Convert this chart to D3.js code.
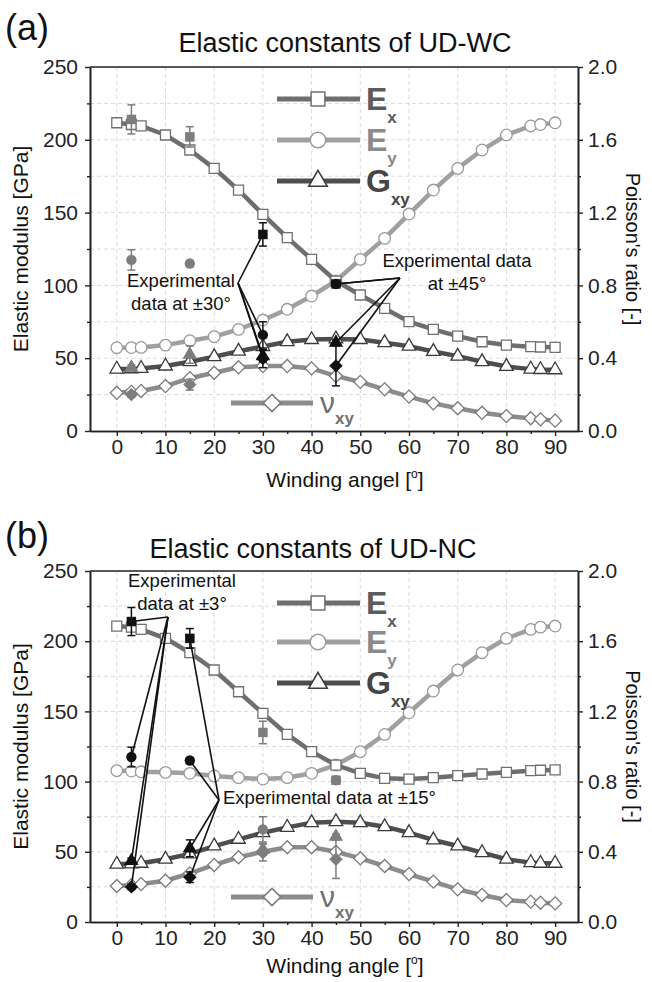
<!DOCTYPE html>
<html>
<head>
<meta charset="utf-8">
<script src="https://cdn.jsdelivr.net/npm/d3@7/dist/d3.min.js"></script>
<style>
body { margin: 0; background: #fff; }
svg text { font-family: "Liberation Sans", Arial, sans-serif; }
</style>
</head>
<body>
<div id="app"></div>
<script>
// winding angles of the model curves
const angles = [0, 3, 5, 10, 15, 20, 25, 30, 35, 40, 45, 50, 55, 60, 65, 70, 75, 80, 85, 87, 90];

// UD-WC (panel a)
const wcEx = [211.7, 210.5, 209.5, 203.3, 193, 180.4, 165.5, 148.8, 132.8, 117.9, 103, 93.4, 84.2, 75.1, 69.8, 65.2, 61.3, 59, 57.9, 57.7, 57.5];
const wcEy = [57.2, 57.3, 57.4, 59, 62, 64.8, 69.8, 76.2, 83.6, 92.7, 103, 117.9, 132.3, 149, 165.5, 180.4, 193, 203.3, 209.5, 210.5, 211.7];
const wcGxy = [42.5, 42.7, 43, 44.6, 47.6, 51, 54.8, 58, 61.3, 62.8, 63.2, 62.8, 60.6, 58.2, 54.6, 51.4, 47.6, 44.3, 42.5, 42.2, 42];
const wcNu = [0.21, 0.215, 0.22, 0.247, 0.29, 0.32, 0.35, 0.357, 0.357, 0.344, 0.302, 0.27, 0.229, 0.189, 0.152, 0.125, 0.1, 0.082, 0.07, 0.064, 0.057];

// UD-NC (panel b)
const ncEx = [210.8, 210, 208.4, 202, 191.8, 179.5, 164, 148.6, 133.6, 121.3, 111.8, 105.9, 102.3, 101.8, 102.8, 104.2, 105.4, 106.6, 107.8, 108.1, 108.3];
const ncEy = [107.8, 107.5, 107, 106.6, 105.9, 104, 102.8, 101.8, 102.8, 105.9, 111.8, 121.3, 133.6, 149, 164.5, 179.5, 191.8, 202, 208.4, 210, 210.8];
const ncGxy = [41.1, 41.4, 41.8, 44.7, 48.5, 54.1, 58.9, 63.6, 67.4, 70.7, 71.4, 70.7, 67.9, 63.6, 58.4, 54.1, 49.4, 44.7, 42.3, 41.8, 41.8];
const ncNu = [0.205, 0.21, 0.216, 0.235, 0.277, 0.325, 0.369, 0.4, 0.426, 0.426, 0.4, 0.363, 0.319, 0.273, 0.23, 0.186, 0.154, 0.125, 0.116, 0.11, 0.106];

// experimental data (same measurements in both panels)
const expAngles = [3, 15, 30, 45];
const expEx = [214, 202, 135, 101];
const expExErr = [10, 7, 8, 1.5];
const expEy = [117.5, 115, 66, 101];
const expEyErr = [7, 2, 9, 1.5];
const expGxy = [43.5, 52.5, 51.5, 60.8];
const expGxyErr = [2, 6, 4, 2];
const expNu = [0.2, 0.255, 0.398, 0.358];
const expNuErr = [0.015, 0.03, 0.05, 0.11];

const xTicks = [0, 10, 20, 30, 40, 50, 60, 70, 80, 90];
const leftTicks = [0, 50, 100, 150, 200, 250];
const rightTicks = [0, 0.4, 0.8, 1.2, 1.6, 2.0];

const W = 652, H = 982;
const svg = d3.select('#app').append('svg').attr('width', W).attr('height', H);

const series = [
	{ key: 'nu', right: true, line: '#8c8c8c', stroke: '#7a7a7a', shape: 'diamond', exp: expNu, err: expNuErr },
	{ key: 'gxy', line: '#4e4e4e', stroke: '#3a3a3a', shape: 'triangle', exp: expGxy, err: expGxyErr },
	{ key: 'ey', line: '#a0a0a0', stroke: '#9a9a9a', shape: 'circle', exp: expEy, err: expEyErr },
	{ key: 'ex', line: '#6e6e6e', stroke: '#707070', shape: 'square', exp: expEx, err: expExErr }
];

const symbolPath = (shape, size) => {
	const type = { square: d3.symbolSquare, circle: d3.symbolCircle, triangle: d3.symbolTriangle, diamond: d3.symbolSquare }[shape];
	return d3.symbol().type(type).size(size)();
};
const rot = (shape) => (shape === 'diamond' ? ' rotate(45)' : '');

const panels = [
	{
		tag: '(a)', tagY: 40, title: 'Elastic constants of UD-WC', titleX: 345, titleY: 52,
		top: 67, bottom: 431, xTitle: 'Winding angel ', xTitleY: 487,
		data: { ex: wcEx, ey: wcEy, gxy: wcGxy, nu: wcNu },
		dark: [30, 45],
		legendY: [99, 140, 181], nuLegendY: 403,
		notes: [
			{ lines: ['Experimental', 'data at \u00b130\u00b0'], x: 181, y: 287, apex: [238, 283], at: 30 },
			{ lines: ['Experimental data', 'at \u00b145\u00b0'], x: 457, y: 267, apex: [400, 278], at: 45 }
		]
	},
	{
		tag: '(b)', tagY: 548, title: 'Elastic constants of UD-NC', titleX: 313, titleY: 558,
		top: 571, bottom: 922, xTitle: 'Winding angle ', xTitleY: 973,
		data: { ex: ncEx, ey: ncEy, gxy: ncGxy, nu: ncNu },
		dark: [3, 15],
		legendY: [603, 642, 683], nuLegendY: 897,
		notes: [
			{ lines: ['Experimental', 'data at \u00b13\u00b0'], x: 182, y: 587, apex: [168, 617], at: 3 },
			{ lines: ['Experimental data at \u00b115\u00b0'], x: 223, y: 804, anchor: 'start', apex: [219, 800], at: 15 }
		]
	}
];

const drawPanel = (p) => {
	const x = d3.scaleLinear().domain([-5.5, 94.7]).range([90, 578]);
	const yL = d3.scaleLinear().domain([0, 250]).range([p.bottom, p.top]);
	const yR = d3.scaleLinear().domain([0, 2]).range([p.bottom, p.top]);
	const yOf = (s) => (s.right ? yR : yL);
	const g = svg.append('g');

	// dashed grid
	g.append('g')
		.selectAll('line')
		.data(xTicks)
		.join('line')
		.attr('x1', (d) => x(d)).attr('x2', (d) => x(d))
		.attr('y1', p.top).attr('y2', p.bottom)
		.attr('stroke', '#dadada').attr('stroke-dasharray', '4,3');
	g.append('g')
		.selectAll('line')
		.data(d3.range(25, 250, 25))
		.join('line')
		.attr('x1', x.range()[0]).attr('x2', x.range()[1])
		.attr('y1', (d) => yL(d)).attr('y2', (d) => yL(d))
		.attr('stroke', '#dadada').attr('stroke-dasharray', '4,3');

	// axes
	const styleAxis = (a) => {
		a.select('.domain').attr('stroke', '#222').attr('stroke-width', 1.6);
		a.selectAll('.tick line').attr('stroke', '#222').attr('stroke-width', 1.4);
		a.selectAll('.tick text').attr('fill', '#222').style('font-size', '21px');
	};
	const [x0, x1] = x.range();
	g.append('g').attr('transform', `translate(${x0},0)`)
		.call(d3.axisLeft(yL).tickValues(d3.range(25, 250, 50)).tickSize(3).tickFormat('').tickSizeOuter(0)).call(styleAxis);
	g.append('g').attr('transform', `translate(${x0},0)`)
		.call(d3.axisLeft(yL).tickValues(leftTicks).tickSize(5).tickPadding(7).tickSizeOuter(0)).call(styleAxis);
	g.append('g').attr('transform', `translate(${x1},0)`)
		.call(d3.axisRight(yR).tickValues(d3.range(0.2, 2, 0.4)).tickSize(3).tickFormat('').tickSizeOuter(0)).call(styleAxis);
	g.append('g').attr('transform', `translate(${x1},0)`)
		.call(d3.axisRight(yR).tickValues(rightTicks).tickSize(5).tickPadding(5).tickFormat(d3.format('.1f')).tickSizeOuter(0)).call(styleAxis);
	g.append('g').attr('transform', `translate(0,${p.bottom})`)
		.call(d3.axisBottom(x).tickValues(d3.range(5, 90, 10)).tickSize(3).tickFormat('').tickSizeOuter(0)).call(styleAxis);
	g.append('g').attr('transform', `translate(0,${p.bottom})`)
		.call(d3.axisBottom(x).tickValues(xTicks).tickSize(5).tickPadding(3).tickSizeOuter(0)).call(styleAxis);
	g.append('line')
		.attr('x1', x0).attr('x2', x1).attr('y1', p.top).attr('y2', p.top)
		.attr('stroke', '#222').attr('stroke-width', 1.6);

	// titles
	svg.append('text').attr('x', 5).attr('y', p.tagY).text(p.tag)
		.style('font-size', '36px').attr('fill', '#111');
	svg.append('text').attr('x', p.titleX).attr('y', p.titleY).attr('text-anchor', 'middle')
		.text(p.title).style('font-size', '27px').attr('fill', '#111');
	const xt = svg.append('text').attr('x', 345).attr('y', p.xTitleY).attr('text-anchor', 'middle')
		.style('font-size', '21px').attr('fill', '#111');
	xt.append('tspan').text(p.xTitle + '[');
	xt.append('tspan').attr('dy', -9).style('font-size', '12px').text('o');
	xt.append('tspan').attr('dy', 9).text(']');
	const cy = (p.top + p.bottom) / 2;
	svg.append('text').attr('transform', `translate(28,${cy}) rotate(-90)`).attr('text-anchor', 'middle')
		.text('Elastic modulus [GPa]').style('font-size', '21px').attr('fill', '#111');
	svg.append('text').attr('transform', `translate(626,${cy}) rotate(90)`).attr('text-anchor', 'middle')
		.text("Poisson's ratio [-]").style('font-size', '20px').attr('fill', '#111');

	// model curves
	series.forEach((s) => {
		const vals = p.data[s.key];
		const y = yOf(s);
		g.append('path')
			.datum(vals)
			.attr('fill', 'none')
			.attr('stroke', s.line)
			.attr('stroke-width', 4.5)
			.attr('d', d3.line().x((d, i) => x(angles[i])).y((d) => y(d)));
		const size = { square: 100, circle: 105, triangle: 80, diamond: 85 }[s.shape];
		g.append('g')
			.selectAll('path')
			.data(vals)
			.join('path')
			.attr('transform', (d, i) => `translate(${x(angles[i])},${y(d)})${rot(s.shape)}`)
			.attr('d', symbolPath(s.shape, size))
			.attr('fill', '#fff')
			.attr('stroke', s.stroke)
			.attr('stroke-width', 1.3);
	});

	// leader lines of the annotations
	p.notes.forEach((n) => {
		const k = expAngles.indexOf(n.at);
		series.forEach((s) => {
			g.append('line')
				.attr('x1', n.apex[0]).attr('y1', n.apex[1])
				.attr('x2', x(n.at)).attr('y2', yOf(s)(s.exp[k]))
				.attr('stroke', '#111').attr('stroke-width', 1.6);
		});
		const t = g.append('text')
			.attr('text-anchor', n.anchor || 'middle')
			.style('font-size', '18.5px').attr('fill', '#111');
		n.lines.forEach((l, i) => {
			t.append('tspan').attr('x', n.x).attr('y', n.y + i * 23).text(l);
		});
	});

	// experimental points with error bars
	series.forEach((s) => {
		const y = yOf(s);
		const pts = expAngles.map((a, i) => ({ a, v: s.exp[i], e: s.err[i] }));
		const col = (d) => (p.dark.includes(d.a) ? '#111' : '#7d7d7d');
		const eg = g.append('g').selectAll('g').data(pts).join('g');
		eg.append('line')
			.attr('x1', (d) => x(d.a)).attr('x2', (d) => x(d.a))
			.attr('y1', (d) => y(d.v - d.e)).attr('y2', (d) => y(d.v + d.e))
			.attr('stroke', col).attr('stroke-width', 1.5);
		[-1, 1].forEach((sg) => {
			eg.append('line')
				.attr('x1', (d) => x(d.a) - 4).attr('x2', (d) => x(d.a) + 4)
				.attr('y1', (d) => y(d.v + sg * d.e)).attr('y2', (d) => y(d.v + sg * d.e))
				.attr('stroke', col).attr('stroke-width', 1.5);
		});
		const size = { square: 90, circle: 85, triangle: 90, diamond: 90 }[s.shape];
		eg.append('path')
			.attr('transform', (d) => `translate(${x(d.a)},${y(d.v)})${rot(s.shape)}`)
			.attr('d', symbolPath(s.shape, size))
			.attr('fill', col);
	});

	// legend
	const legText = [
		{ key: 'ex', main: 'E', sub: 'x', fill: '#5c5c5c' },
		{ key: 'ey', main: 'E', sub: 'y', fill: '#8a8a8a' },
		{ key: 'gxy', main: 'G', sub: 'xy', fill: '#454545' }
	];
	legText.forEach((l, i) => {
		const s = series.find((d) => d.key === l.key);
		const ly = p.legendY[i];
		g.append('line').attr('x1', 277).attr('x2', 360).attr('y1', ly).attr('y2', ly)
			.attr('stroke', s.line).attr('stroke-width', 5);
		g.append('path').attr('transform', `translate(318,${ly})`)
			.attr('d', symbolPath(s.shape, { square: 190, circle: 190, triangle: 150 }[s.shape]))
			.attr('fill', '#fff').attr('stroke', s.stroke).attr('stroke-width', 1.5);
		const t = g.append('text').attr('x', 366).attr('y', ly + 11).attr('fill', l.fill)
			.style('font-weight', 'bold').style('font-size', '32px');
		t.append('tspan').text(l.main);
		t.append('tspan').attr('dy', 13).style('font-size', '17px').text(l.sub);
	});
	const nuS = series[0];
	g.append('line').attr('x1', 231).attr('x2', 313).attr('y1', p.nuLegendY).attr('y2', p.nuLegendY)
		.attr('stroke', nuS.line).attr('stroke-width', 5);
	g.append('path').attr('transform', `translate(272,${p.nuLegendY}) rotate(45)`)
		.attr('d', symbolPath('diamond', 150))
		.attr('fill', '#fff').attr('stroke', nuS.stroke).attr('stroke-width', 1.5);
	const nt = g.append('text').attr('x', 320).attr('y', p.nuLegendY + 10).attr('fill', '#707070')
		.style('font-size', '30px');
	nt.append('tspan').text('\u03bd');
	nt.append('tspan').attr('dy', 11).style('font-size', '17px').style('font-weight', 'bold').text('xy');
};

panels.forEach(drawPanel);
</script>
</body>
</html>
